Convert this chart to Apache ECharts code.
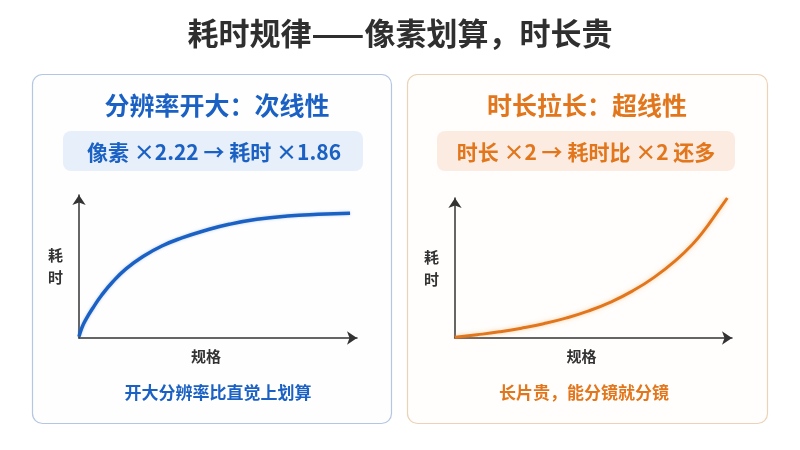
<!DOCTYPE html>
<html lang="zh">
<head>
    <meta charset="utf-8">
    <title>耗时规律</title>
    <style>
        html, body {margin: 0; padding: 0; background: #ffffff;}
        #container {width: 800px; height: 450px;}
    </style>
</head>
<body>
<div id="container"></div>
<script src="https://cdn.jsdelivr.net/npm/echarts@6/dist/echarts.min.js"></script>
<script>
// 数据（归一化：规格 0-100，耗时 0-100）
var pixelX = [0, 1, 2.5, 5, 8, 12, 17, 23, 30, 37, 45, 54, 64, 75, 86, 97.5];
var pixelY = [1, 7, 13, 21, 29.5, 39, 48.5, 57, 64.5, 70, 75, 79.5, 83, 85.3, 86.5, 87.2];

var durX = [0, 8, 16, 24, 32, 40, 48, 56, 64, 72, 80, 86, 90, 94, 98.3];
var durY = [0.5, 2.3, 4.4, 7.0, 10.2, 14.2, 19.2, 25.5, 33.5, 43.5, 56, 67.5, 77, 88, 100];

var mainTitle = '耗时规律——像素划算，时长贵';
var panelTitles = ['分辨率开大：次线性', '时长拉长：超线性'];
var badgeTexts = ['像素 ×2.22 → 耗时 ×1.86', '时长 ×2 → 耗时比 ×2 还多'];
var footTexts = ['开大分辨率比直觉上划算', '长片贵，能分镜就分镜'];
var xName = '规格';
var yName = '耗\n时';

var BLUE = '#1b61c4';
var ORANGE = '#e2761c';
var FONT = '"Noto Sans CJK SC", "Noto Sans", sans-serif';

function pairs(xs, ys) {
    return xs.map(function (x, i) { return [x, ys[i]]; });
}

function makeX(idx) {
    return {
        type: 'value', gridIndex: idx, min: 0, max: 100,
        name: xName, nameLocation: 'middle', nameGap: 11,
        nameTextStyle: {color: '#333', fontSize: 15, fontWeight: 'bold', fontFamily: FONT, padding: [0, 24, 0, 0]},
        axisLine: {show: true, symbol: ['none', 'arrow'], symbolSize: [10, 10], lineStyle: {color: '#333', width: 1.5}},
        axisTick: {show: false}, axisLabel: {show: false}, splitLine: {show: false}
    };
}
function makeY(idx) {
    return {
        type: 'value', gridIndex: idx, min: 0, max: 100,
        name: yName, nameLocation: 'middle', nameRotate: 0, nameGap: 16,
        nameTextStyle: {color: '#333', fontSize: 15, fontWeight: 'bold', fontFamily: FONT, lineHeight: 22, padding: [0, 0, 10, 0]},
        axisLine: {show: true, symbol: ['none', 'arrow'], symbolSize: [10, 10], lineStyle: {color: '#333', width: 1.5}},
        axisTick: {show: false}, axisLabel: {show: false}, splitLine: {show: false}
    };
}

function badge(x, w, fill, color, text, cx) {
    return [{
        type: 'rect', shape: {x: x, y: 131, width: w, height: 40, r: 8},
        style: {fill: fill}, z: 1
    }, {
        type: 'text', x: cx, y: 152,
        style: {text: text, fill: color, font: 'bold 21px ' + FONT, align: 'center', verticalAlign: 'middle'}, z: 2
    }];
}

var myChart = echarts.init(document.getElementById('container'));
var option = {
    animation: false,
    backgroundColor: '#ffffff',
    textStyle: {fontFamily: FONT},
    title: [
        {text: mainTitle, left: 'center', top: 13,
            textStyle: {fontSize: 31, fontWeight: 'bold', color: '#2f2f2f', fontFamily: FONT}},
        {text: panelTitles[0], left: 212, textAlign: 'center', top: 88,
            textStyle: {fontSize: 25, fontWeight: 'bold', color: BLUE, fontFamily: FONT}},
        {text: panelTitles[1], left: 582, textAlign: 'center', top: 88,
            textStyle: {fontSize: 25, fontWeight: 'bold', color: ORANGE, fontFamily: FONT}},
        {text: footTexts[0], left: 213, textAlign: 'center', top: 379,
            textStyle: {fontSize: 17, fontWeight: 'bold', color: BLUE, fontFamily: FONT}},
        {text: footTexts[1], left: 579, textAlign: 'center', top: 379,
            textStyle: {fontSize: 17, fontWeight: 'bold', color: ORANGE, fontFamily: FONT}}
    ],
    graphic: [
        {type: 'rect', shape: {x: 32.5, y: 74.5, width: 359, height: 349, r: 10},
            style: {fill: '#fefeff', stroke: '#b4c7e2', lineWidth: 1.2}, z: 0},
        {type: 'rect', shape: {x: 407.5, y: 74.5, width: 360, height: 349, r: 10},
            style: {fill: '#fffefc', stroke: '#ecd2b6', lineWidth: 1.2}, z: 0}
    ].concat(
        badge(63, 300, '#e7effa', BLUE, badgeTexts[0], 214),
        badge(437, 298, '#fcebe1', ORANGE, badgeTexts[1], 586)
    ),
    grid: [
        {left: 79, top: 195, width: 278, height: 143},
        {left: 455, top: 198, width: 277, height: 140}
    ],
    xAxis: [makeX(0), makeX(1)],
    yAxis: [makeY(0), makeY(1)],
    series: [
        {
            type: 'line', xAxisIndex: 0, yAxisIndex: 0, smooth: 0.5, symbol: 'none',
            data: pairs(pixelX, pixelY),
            lineStyle: {color: BLUE, width: 3.5, shadowBlur: 3, shadowColor: 'rgba(60,120,220,0.35)'},
            z: 5
        },
        {
            type: 'line', xAxisIndex: 1, yAxisIndex: 1, smooth: 0.5, symbol: 'none',
            data: pairs(durX, durY),
            lineStyle: {color: ORANGE, width: 3, shadowBlur: 4, shadowColor: 'rgba(245,160,80,0.5)'},
            z: 5
        }
    ]
};
myChart.setOption(option);
</script>
</body>
</html>
